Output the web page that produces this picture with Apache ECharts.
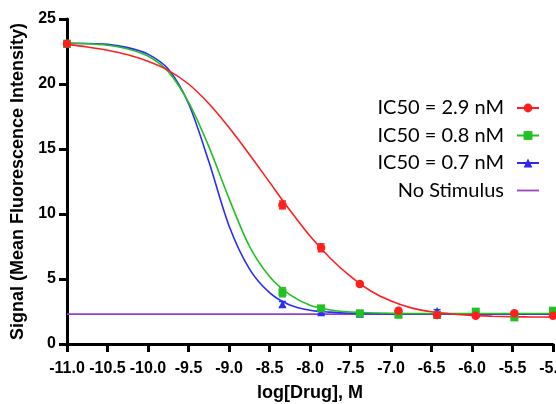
<!DOCTYPE html>
<html>
<head>
<meta charset="utf-8">
<script src="https://cdn.jsdelivr.net/npm/echarts@6/dist/echarts.min.js"></script>
<style>
html,body{margin:0;padding:0;background:#fff;}
#chart{width:556px;height:404px;}
</style>
</head>
<body>
<div id="chart"></div>
<script>
// ---- data ----
const seriesNames = ['IC50 = 2.9 nM', 'IC50 = 0.8 nM', 'IC50 = 0.7 nM', 'No Stimulus'];
const xTicks = { min: -11, max: -5, step: 0.5 };
const yTicks = { min: 0, max: 25, step: 5 };

// measured points (log[Drug], signal) and error bars
const redPoints = [[-11, 23.1], [-8.34, 10.7], [-7.863, 7.4], [-7.385, 4.62], [-6.908, 2.56], [-6.431, 2.23], [-5.954, 2.18], [-5.477, 2.36], [-5.0, 2.18]];
const redErr = [0.1, 0.3, 0.3, 0.1, 0.1, 0.1, 0.1, 0.1, 0.1];
const greenPoints = [[-11, 23.1], [-8.34, 3.98], [-7.863, 2.74], [-7.385, 2.36], [-6.908, 2.25], [-6.431, 2.23], [-5.954, 2.49], [-5.477, 2.05], [-5.0, 2.56]];
const greenErr = [0.1, 0.35, 0.1, 0.1, 0.1, 0.1, 0.1, 0.1, 0.1];
const bluePoints = [[-11, 23.1], [-8.34, 3.05], [-7.863, 2.44], [-7.385, 2.33], [-6.908, 2.3], [-6.431, 2.54], [-5.954, 2.35], [-5.477, 2.25], [-5.0, 2.4]];
const blueErr = [0.1, 0.22, 0.1, 0.1, 0.1, 0.1, 0.1, 0.1, 0.1];

// fitted curves
const redCurve = [[-11, 23.05], [-10.75, 22.85], [-10.5, 22.6], [-10.25, 22.25], [-10.0, 21.75], [-9.75, 21.05], [-9.5, 20.0], [-9.25, 18.5], [-9.0, 16.65], [-8.75, 14.6], [-8.5, 12.45], [-8.25, 10.3], [-8.0, 8.3], [-7.75, 6.6], [-7.5, 5.2], [-7.25, 4.08], [-7.0, 3.3], [-6.75, 2.78], [-6.5, 2.48], [-6.25, 2.31], [-6.0, 2.2], [-5.75, 2.14], [-5.5, 2.1], [-5.25, 2.08], [-5.0, 2.07]];
const greenCurve = [[-11, 23.13], [-10.75, 23.1], [-10.5, 22.98], [-10.25, 22.7], [-10.0, 22.15], [-9.75, 20.95], [-9.5, 18.6], [-9.25, 15.2], [-9.0, 11.2], [-8.75, 7.55], [-8.5, 5.2], [-8.25, 3.8], [-8.0, 2.98], [-7.75, 2.62], [-7.5, 2.46], [-7.0, 2.37], [-6.5, 2.35], [-5.0, 2.35]];
const blueCurve = [[-11, 23.13], [-10.75, 23.12], [-10.5, 23.05], [-10.25, 22.8], [-10.0, 22.3], [-9.75, 21.15], [-9.5, 18.5], [-9.25, 14.05], [-9.0, 9.1], [-8.75, 5.8], [-8.5, 3.95], [-8.25, 3.0], [-8.0, 2.6], [-7.75, 2.45], [-7.5, 2.37], [-7.0, 2.32], [-5.0, 2.3]];
const noStimulus = [[-11, 2.3], [-5, 2.3]];

// ---- styling ----
const RED = '#ff1f1f', GREEN = '#22c022', BLUE = '#2b2bff', PURPLE = '#9a3fc8';
const FONT = 'Liberation Sans, Arial, sans-serif';

function errData(points, errs) {
  return points.map((p, i) => [p[0], p[1], errs[i]]);
}
function errSeries(name, points, errs, color, z) {
  return {
    type: 'custom', name: name, z: z, silent: true,
    data: errData(points, errs),
    renderItem: function (params, api) {
      const x = api.value(0), y = api.value(1), e = api.value(2);
      const t = api.coord([x, y + e]), b = api.coord([x, y - e]);
      const hw = 3.5;
      return {
        type: 'group', children: [
          { type: 'line', shape: { x1: t[0], y1: t[1], x2: b[0], y2: b[1] }, style: { stroke: color, lineWidth: 1.5 } },
          { type: 'line', shape: { x1: t[0] - hw, y1: t[1], x2: t[0] + hw, y2: t[1] }, style: { stroke: color, lineWidth: 1.5 } },
          { type: 'line', shape: { x1: b[0] - hw, y1: b[1], x2: b[0] + hw, y2: b[1] }, style: { stroke: color, lineWidth: 1.5 } }
        ]
      };
    }
  };
}
function curveSeries(name, data, color, symbol, z) {
  return {
    type: 'line', name: name, data: data, z: z,
    smooth: 0.3, showSymbol: false, symbol: symbol, symbolSize: 9,
    lineStyle: { color: color, width: 1.6 }, itemStyle: { color: color },
    emphasis: { disabled: true }
  };
}
function pointSeries(name, data, color, symbol, size, z) {
  return {
    type: 'scatter', name: name, data: data, z: z,
    symbol: symbol, symbolSize: size, itemStyle: { color: color, opacity: 1 },
    emphasis: { disabled: true }
  };
}

const chart = echarts.init(document.getElementById('chart'), null, { renderer: 'canvas' });
chart.setOption({
  animation: false,
  backgroundColor: '#fff',
  grid: { left: 67, right: 3, top: 19, bottom: 60, containLabel: false, outerBoundsMode: 'none' },
  xAxis: {
    type: 'value', min: xTicks.min, max: xTicks.max, interval: xTicks.step,
    name: 'log[Drug], M', nameLocation: 'middle', nameGap: 40,
    nameTextStyle: { fontFamily: FONT, fontWeight: 'bold', fontSize: 18, color: '#000' },
    axisLine: { show: true, onZero: false, lineStyle: { color: '#000', width: 3 } },
    axisTick: { show: true, length: 8, lineStyle: { color: '#000', width: 3 } },
    axisLabel: { margin: 17, fontFamily: FONT, fontWeight: 'bold', fontSize: 16, color: '#000', formatter: v => v.toFixed(1), showMaxLabel: true, showMinLabel: true, hideOverlap: false },
    splitLine: { show: false }
  },
  yAxis: {
    type: 'value', min: yTicks.min, max: yTicks.max, interval: yTicks.step,
    name: 'Signal (Mean Fluorescence Intensity)', nameLocation: 'middle', nameGap: 37,
    nameTextStyle: { fontFamily: FONT, fontWeight: 'bold', fontSize: 18, color: '#000' },
    axisLine: { show: true, onZero: false, lineStyle: { color: '#000', width: 3 } },
    axisTick: { show: true, length: 8, lineStyle: { color: '#000', width: 3 } },
    axisLabel: { margin: 11, fontFamily: FONT, fontWeight: 'bold', fontSize: 16, color: '#000' },
    splitLine: { show: false }
  },
  legend: {
    orient: 'vertical', right: 11, top: 93, align: 'right',
    itemWidth: 22, itemHeight: 11, itemGap: 7.5,
    selectedMode: false,
    textStyle: { fontFamily: 'Lato, sans-serif', fontSize: 20, lineHeight: 20, color: '#000', padding: [0, 8, 0, 0] },
    data: [
      { name: seriesNames[0] },
      { name: seriesNames[1] },
      { name: seriesNames[2] },
      { name: seriesNames[3], icon: 'path://M0,0H100V8H0Z', itemStyle: { color: PURPLE } }
    ]
  },
  series: [
    { type: 'line', name: seriesNames[3], data: noStimulus, z: 1, symbol: 'none', lineStyle: { color: PURPLE, width: 1.6 }, itemStyle: { color: PURPLE }, emphasis: { disabled: true } },
    curveSeries(seriesNames[2], blueCurve, BLUE, 'triangle', 2),
    curveSeries(seriesNames[1], greenCurve, GREEN, 'rect', 3),
    curveSeries(seriesNames[0], redCurve, RED, 'circle', 4),
    errSeries(seriesNames[2], bluePoints, blueErr, BLUE, 5),
    pointSeries(seriesNames[2], bluePoints, BLUE, 'triangle', 8, 6),
    errSeries(seriesNames[1], greenPoints, greenErr, GREEN, 7),
    pointSeries(seriesNames[1], greenPoints, GREEN, 'rect', 8, 8),
    errSeries(seriesNames[0], redPoints, redErr, RED, 9),
    pointSeries(seriesNames[0], redPoints, RED, 'circle', 8.5, 10)
  ]
});
</script>
</body>
</html>
